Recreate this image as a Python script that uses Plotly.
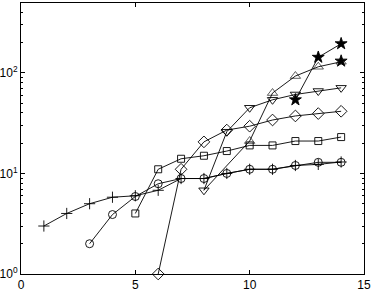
import plotly.graph_objects as go

# Data
plus_x = [1, 2, 3, 4, 5, 6, 7, 8, 9, 10, 11, 12, 13, 14]
plus_y = [3.0, 4.0, 5.0, 5.8, 6.0, 6.8, 8.9, 8.9, 10.0, 11.0, 11.0, 12.0, 12.3, 13.0]

circle_x = [3, 4, 5, 6, 7, 8, 9, 10, 11, 12, 13, 14]
circle_y = [2.0, 3.9, 5.9, 7.9, 8.9, 8.9, 10.0, 11.0, 11.0, 12.0, 12.9, 12.9]

square_x = [5, 6, 7, 8, 9, 10, 11, 12, 13, 14]
square_y = [4.0, 11.0, 14.0, 15.0, 16.7, 19.0, 19.0, 21.0, 21.0, 23.0]

diamond_x = [6, 7, 8, 9, 10, 11, 12, 13, 14]
diamond_y = [1.0, 11.0, 20.6, 27.0, 29.5, 34.0, 37.3, 39.4, 41.5]

tridown_x = [8, 9, 10, 11, 12, 13, 14]
tridown_y = [6.8, 26.0, 45.0, 54.0, 61.0, 66.0, 71.0]

triup_x = [8, 10, 11, 12, 13, 14]
triup_y = [6.8, 21.0, 63.0, 93.0, 115.0, 129.0]

star_x = [12, 13, 14]
star_y = [54.0, 143.0, 195.0]

star2_x = [14]
star2_y = [131.0]

ytick_vals = [1, 10, 100]
ytick_text = ["10<sup>0</sup>", "10<sup>1</sup>", "10<sup>2</sup>"]
xtick_vals = [0, 5, 10, 15]

LW = 0.9

def series(x, y, symbol, size, fill=None):
    return go.Scatter(
        x=x, y=y, mode="lines+markers",
        line=dict(color="black", width=LW),
        marker=dict(symbol=symbol, size=size, color=fill or "black",
                    line=dict(color="black", width=LW)),
        cliponaxis=False, showlegend=False, hoverinfo="skip",
    )

fig = go.Figure()
fig.add_trace(series(plus_x, plus_y, "cross-thin-open", 8))
fig.add_trace(series(circle_x, circle_y, "circle-open", 8))
fig.add_trace(series(square_x, square_y, "square-open", 7))
fig.add_trace(series(diamond_x, diamond_y, "diamond-open", 9))
fig.add_trace(series(tridown_x, tridown_y, "triangle-down-open", 9))
fig.add_trace(series(triup_x, triup_y, "triangle-up-open",
                     [0] + [9] * (len(triup_x) - 1)))
fig.add_trace(series(star_x, star_y, "star", 9))
fig.add_trace(series(star2_x, star2_y, "star", 9))

axis_common = dict(
    showline=True, linecolor="black", linewidth=1, mirror="ticks",
    ticks="inside", ticklen=4, tickcolor="black", tickwidth=1,
    showgrid=False, zeroline=False, automargin=False,
    tickfont=dict(family="Liberation Sans, Arial, sans-serif", size=12, color="black"),
)

fig.update_xaxes(range=[0, 15], tickvals=xtick_vals, ticklabelstandoff=0, **axis_common)
fig.update_yaxes(type="log", range=[0, 2.695], tickvals=ytick_vals,
                 ticktext=ytick_text,
                 minor=dict(ticks="inside", ticklen=2, tickcolor="black",
                            showgrid=False, dtick="D1"),
                 ticklabelstandoff=0,
                 **axis_common)

fig.update_layout(
    width=374, height=291,
    margin=dict(l=21, r=10, t=3, b=17),
    paper_bgcolor="white", plot_bgcolor="white",
    font=dict(family="Liberation Sans, Arial, sans-serif", size=12, color="black"),
)

fig.write_html("out.html", config={"displayModeBar": False},
               post_script="document.body.style.margin='0';")
